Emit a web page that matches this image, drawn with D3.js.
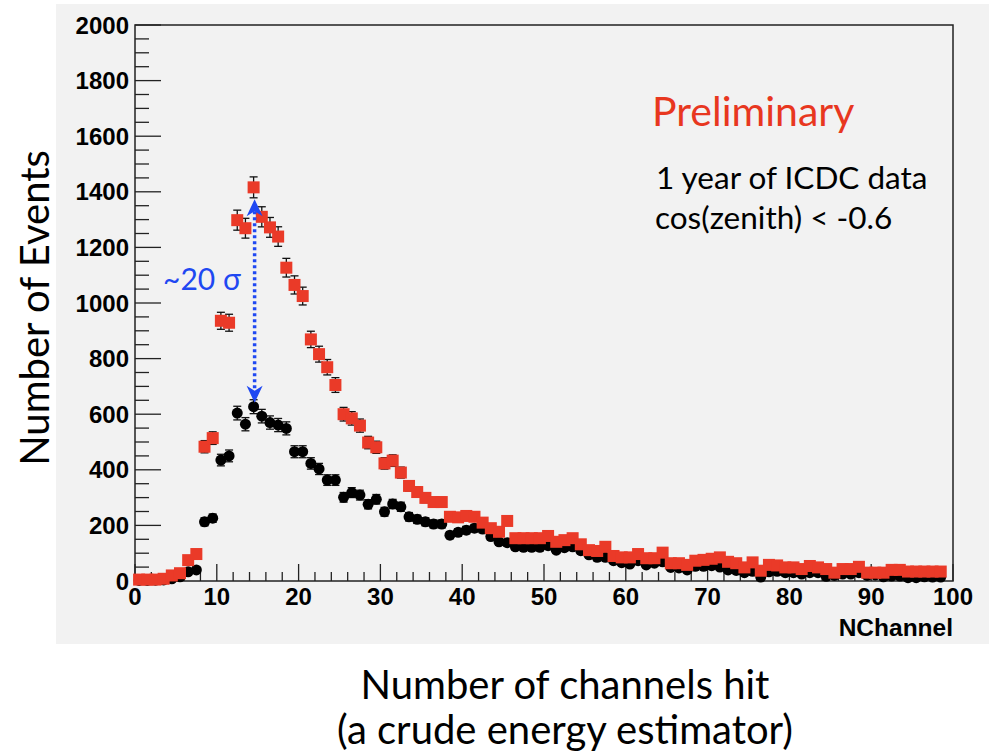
<!DOCTYPE html>
<html>
<head>
<meta charset="utf-8">
<script src="https://cdn.jsdelivr.net/npm/d3@7"></script>
<style>
  body { margin: 0; background: #ffffff; }
  svg { display: block; }
</style>
</head>
<body>
<div id="chart"></div>
<script>
// bin counts per NChannel bin (bins 0..98, width 1)
var redCounts = [5, 5, 5, 8, 20, 28, 75, 97, 483, 514,
  936, 929, 1298, 1269, 1416, 1310, 1272, 1239, 1127, 1065,
  1025, 869, 816, 769, 705, 600, 585, 559, 498, 481,
  423, 433, 390, 342, 320, 299, 284, 284, 231, 229,
  234, 231, 210, 190, 177, 216, 154, 154, 154, 154,
  162, 141, 147, 154, 132, 111, 108, 123, 90, 85,
  85, 97, 82, 82, 102, 64, 64, 58, 73, 76,
  80, 85, 69, 64, 49, 67, 37, 58, 56, 49,
  49, 43, 54, 49, 43, 30, 43, 43, 51, 30,
  30, 30, 40, 40, 34, 34, 34, 34, 34];

var blackCounts = [2, 2, 3, 4, 8, 15, 33, 40, 213, 226,
  435, 450, 604, 564, 627, 593, 570, 561, 549, 465,
  465, 423, 403, 363, 363, 301, 318, 309, 276, 294,
  249, 277, 267, 231, 222, 213, 205, 205, 165, 175,
  183, 190, 187, 160, 141, 138, 123, 121, 121, 121,
  127, 111, 120, 123, 109, 94, 85, 85, 73, 66,
  61, 73, 58, 64, 69, 49, 47, 40, 53, 53,
  55, 50, 40, 38, 30, 35, 14, 33, 35, 30,
  30, 25, 30, 30, 17, 20, 25, 25, 30, 20,
  22, 15, 18, 18, 12, 12, 15, 14, 14];

var xTicks = [0, 10, 20, 30, 40, 50, 60, 70, 80, 90, 100];
var yTicks = [0, 200, 400, 600, 800, 1000, 1200, 1400, 1600, 1800, 2000];
var peakBin = 14;

var W = 992, H = 755;
var plot = { left: 135, right: 953, top: 25, bottom: 581 };

var svg = d3.select("#chart").append("svg")
    .attr("width", W)
    .attr("height", H);

// grey ROOT canvas
svg.append("rect")
    .attr("x", 56).attr("y", 4)
    .attr("width", 933).attr("height", 640)
    .attr("fill", "#f2f2f2");

var x = d3.scaleLinear().domain([0, 100]).range([plot.left, plot.right]);
var y = d3.scaleLinear().domain([0, 2000]).range([plot.bottom, plot.top]);

// frame
svg.append("rect")
    .attr("x", plot.left).attr("y", plot.top)
    .attr("width", plot.right - plot.left)
    .attr("height", plot.bottom - plot.top)
    .attr("fill", "none")
    .attr("stroke", "#222")
    .attr("stroke-width", 1.5);

// y axis ticks (inward)
var yMinor = d3.range(0, 2001, 50);
svg.append("g").selectAll("line")
    .data(yMinor)
    .enter().append("line")
    .attr("x1", plot.left)
    .attr("x2", d => plot.left + (d % 200 === 0 ? 26 : 14))
    .attr("y1", d => y(d)).attr("y2", d => y(d))
    .attr("stroke", "#222").attr("stroke-width", 1.3);

svg.append("g").selectAll("text")
    .data(yTicks)
    .enter().append("text")
    .attr("x", plot.left - 6)
    .attr("y", d => y(d))
    .attr("dy", "0.36em")
    .attr("text-anchor", "end")
    .style("font-family", "Liberation Sans, Arial, sans-serif")
    .style("font-weight", "bold")
    .style("font-size", "24px")
    .text(d => d);

// x axis ticks (inward)
var xMinor = d3.range(0, 101, 2);
svg.append("g").selectAll("line")
    .data(xMinor)
    .enter().append("line")
    .attr("x1", d => x(d)).attr("x2", d => x(d))
    .attr("y1", plot.bottom)
    .attr("y2", d => plot.bottom - (d % 10 === 0 ? 17 : 9))
    .attr("stroke", "#222").attr("stroke-width", 1.3);

svg.append("g").selectAll("text")
    .data(xTicks)
    .enter().append("text")
    .attr("x", d => x(d))
    .attr("y", 605)
    .attr("text-anchor", "middle")
    .style("font-family", "Liberation Sans, Arial, sans-serif")
    .style("font-weight", "bold")
    .style("font-size", "24px")
    .text(d => d);

svg.append("text")
    .attr("x", plot.right)
    .attr("y", 636)
    .attr("text-anchor", "end")
    .style("font-family", "Liberation Sans, Arial, sans-serif")
    .style("font-weight", "bold")
    .style("font-size", "24.5px")
    .text("NChannel");

// histograms with sqrt(N) error bars
function drawSeries(counts, shape, color) {
    var g = svg.append("g");
    var pts = counts.map((v, i) => ({ c: i + 0.5, v: v, e: Math.sqrt(v) }));

    var eb = g.append("g").selectAll("g")
        .data(pts)
        .enter().append("g")
        .attr("stroke", "#111")
        .attr("stroke-width", 1.3);
    eb.append("line")
        .attr("x1", d => x(d.c)).attr("x2", d => x(d.c))
        .attr("y1", d => y(d.v + d.e)).attr("y2", d => y(d.v - d.e));
    eb.append("line")
        .attr("x1", d => x(d.c) - 4).attr("x2", d => x(d.c) + 4)
        .attr("y1", d => y(d.v + d.e)).attr("y2", d => y(d.v + d.e));
    eb.append("line")
        .attr("x1", d => x(d.c) - 4).attr("x2", d => x(d.c) + 4)
        .attr("y1", d => y(d.v - d.e)).attr("y2", d => y(d.v - d.e));

    if (shape === "square") {
        g.append("g").selectAll("rect")
            .data(pts)
            .enter().append("rect")
            .attr("x", d => x(d.c) - 6)
            .attr("y", d => y(d.v) - 6)
            .attr("width", 12).attr("height", 12)
            .attr("fill", color);
    } else {
        g.append("g").selectAll("circle")
            .data(pts)
            .enter().append("circle")
            .attr("cx", d => x(d.c))
            .attr("cy", d => y(d.v))
            .attr("r", 5.5)
            .attr("fill", color);
    }
}

drawSeries(blackCounts, "circle", "#000000");
drawSeries(redCounts, "square", "#ea3a28");

// ~20 sigma arrow between peaks
var ax = x(peakBin + 0.5) + 1;
var yTop = y(redCounts[peakBin]) + 12;
var yBot = y(blackCounts[peakBin]) - 4;
var blue = "#1f48f2";

svg.append("line")
    .attr("x1", ax).attr("x2", ax)
    .attr("y1", yTop + 12).attr("y2", yBot - 12)
    .attr("stroke", blue)
    .attr("stroke-width", 3.5)
    .attr("stroke-dasharray", "3,3");

svg.append("path")
    .attr("d", `M${ax},${yTop} L${ax - 8},${yTop + 17} L${ax},${yTop + 12} L${ax + 8},${yTop + 17} Z`)
    .attr("fill", blue);
svg.append("path")
    .attr("d", `M${ax},${yBot} L${ax - 8},${yBot - 17} L${ax},${yBot - 12} L${ax + 8},${yBot - 17} Z`)
    .attr("fill", blue);

svg.append("text")
    .attr("x", 163).attr("y", 290)
    .style("font-family", "Lato, sans-serif")
    .style("font-size", "30px")
    .attr("fill", blue)
    .text("~20 σ");

// annotations
svg.append("text")
    .attr("x", 652).attr("y", 126)
    .style("font-family", "Lato, sans-serif")
    .style("font-size", "41px")
    .attr("fill", "#e8371f")
    .text("Preliminary");

svg.append("text")
    .attr("x", 656).attr("y", 189)
    .style("font-family", "Lato, sans-serif")
    .style("font-size", "31.5px")
    .attr("fill", "#000")
    .text("1 year of ICDC data");

svg.append("text")
    .attr("x", 655).attr("y", 229)
    .style("font-family", "Lato, sans-serif")
    .style("font-size", "31.5px")
    .attr("fill", "#000")
    .text("cos(zenith) < -0.6");

// axis titles
svg.append("text")
    .attr("transform", "translate(49,308) rotate(-90)")
    .attr("text-anchor", "middle")
    .style("font-family", "Lato, sans-serif")
    .style("font-size", "40px")
    .attr("fill", "#000")
    .text("Number of Events");

svg.append("text")
    .attr("x", 565).attr("y", 699)
    .attr("text-anchor", "middle")
    .style("font-family", "Lato, sans-serif")
    .style("font-size", "40px")
    .attr("fill", "#000")
    .text("Number of channels hit");

svg.append("text")
    .attr("x", 565).attr("y", 744)
    .attr("text-anchor", "middle")
    .style("font-family", "Lato, sans-serif")
    .style("font-size", "40px")
    .attr("fill", "#000")
    .text("(a crude energy estimator)");
</script>
</body>
</html>
